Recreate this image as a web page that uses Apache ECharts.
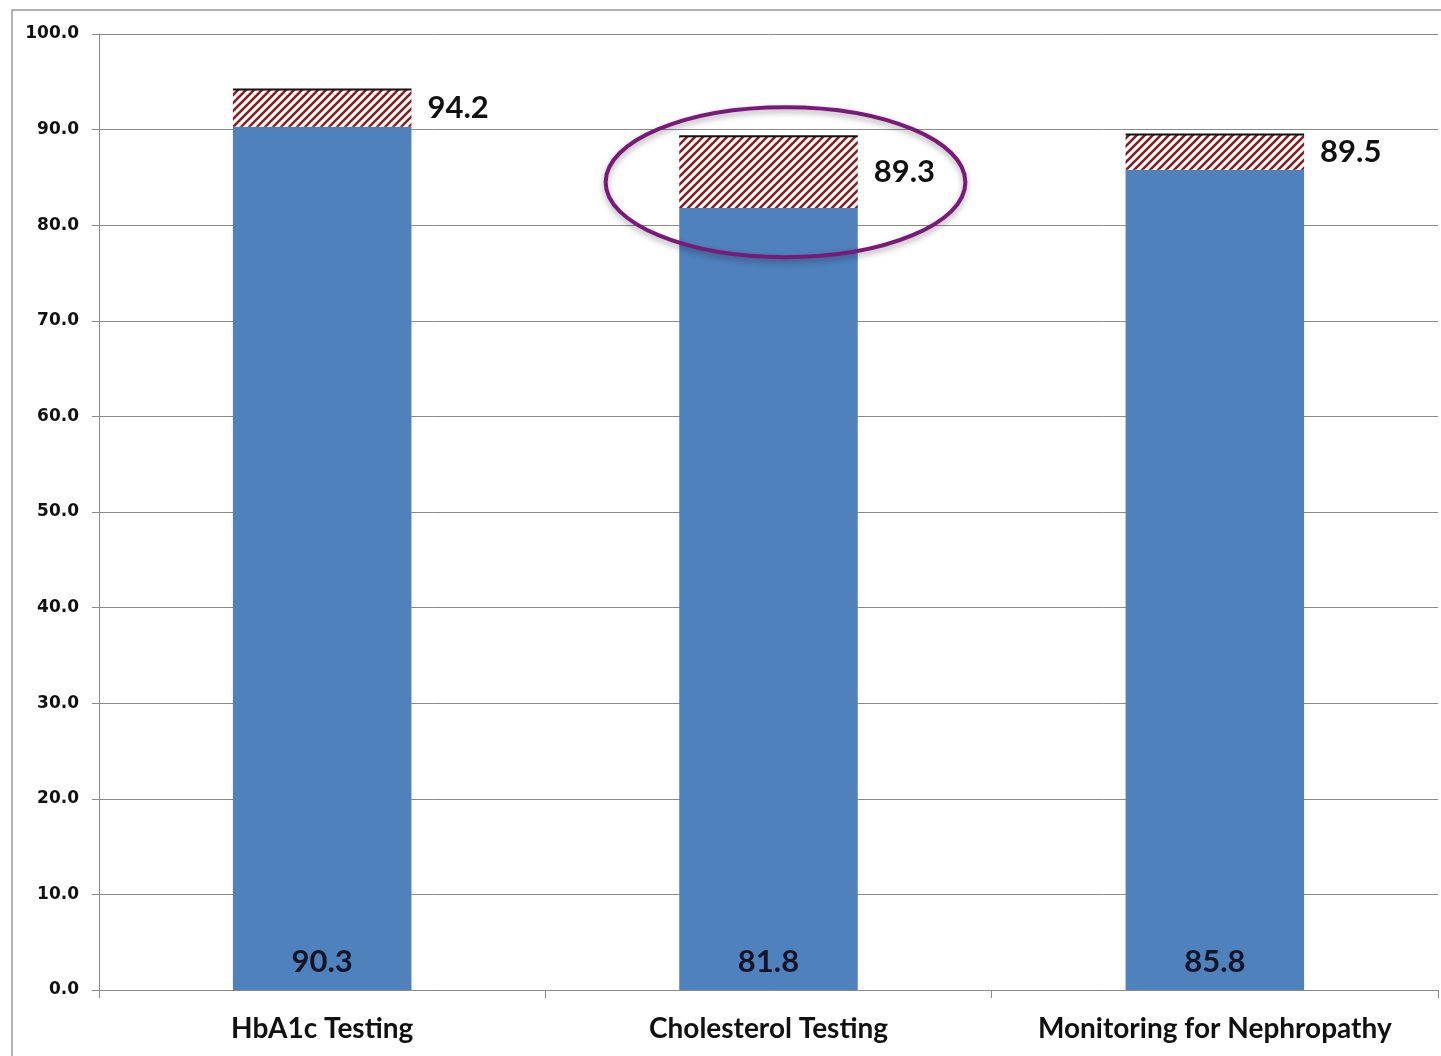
<!DOCTYPE html>
<html>
<head>
<meta charset="utf-8">
<script src="https://cdn.jsdelivr.net/npm/echarts@6/dist/echarts.min.js"></script>
<style>
html,body{margin:0;padding:0;background:#fff;}
#main{width:1441px;height:1056px;}
</style>
</head>
<body>
<div id="main"></div>
<script>
const categories = ['HbA1c Testing', 'Cholesterol Testing', 'Monitoring for Nephropathy'];
const baseValues = [90.3, 81.8, 85.8];
const totalValues = [94.2, 89.3, 89.5];
const yTicks = { min: 0, max: 100, interval: 10 };

const gapValues = totalValues.map((t, i) => +(t - baseValues[i]).toFixed(1));

// hatch pattern
const pc = document.createElement('canvas');
pc.width = 8; pc.height = 8;
const g = pc.getContext('2d');
g.fillStyle = '#ffffff';
g.fillRect(0, 0, 8, 8);
g.strokeStyle = '#8e1b1b';
g.lineWidth = 2.6;
g.beginPath();
g.moveTo(-1, 9); g.lineTo(9, -1);
g.moveTo(-5, 5); g.lineTo(5, -5);
g.moveTo(3, 13); g.lineTo(13, 3);
g.stroke();

const chart = echarts.init(document.getElementById('main'), null, { renderer: 'canvas' });
const labelFont = 'Lato, "Open Sans", sans-serif';

const option = {
  animation: false,
  backgroundColor: '#fff',
  grid: { left: 99, right: 3, top: 34, bottom: 66, containLabel: false },
  xAxis: {
    type: 'category',
    data: categories,
    axisLine: { lineStyle: { color: '#8a8a8a', width: 1 } },
    axisTick: { show: true, interval: 0, length: 8, lineStyle: { color: '#8a8a8a' } },
    axisLabel: { interval: 0, hideOverlap: false, color: '#111', fontFamily: labelFont, fontWeight: 'bold', fontSize: 28, margin: 25 }
  },
  yAxis: {
    type: 'value',
    min: yTicks.min, max: yTicks.max, interval: yTicks.interval,
    axisLine: { show: true, lineStyle: { color: '#8a8a8a', width: 1 } },
    axisTick: { show: true, length: 7, lineStyle: { color: '#8a8a8a' } },
    splitLine: { lineStyle: { color: '#8a8a8a', width: 1 } },
    axisLabel: {
      color: '#111', fontFamily: '"DejaVu Sans", Verdana, sans-serif', fontWeight: 'bold', fontSize: 17, margin: 20,
      formatter: v => v.toFixed(1)
    }
  },
  series: [
    {
      name: 'base', type: 'bar', stack: 's', data: baseValues, barWidth: '40%',
      itemStyle: { color: '#4f81bd' },
      label: {
        show: true, position: 'insideBottom', distance: 13,
        color: '#141428', fontFamily: labelFont, fontWeight: 'bold', fontSize: 31,
        formatter: p => p.value.toFixed(1)
      }
    },
    {
      name: 'gap', type: 'bar', stack: 's', data: gapValues, barWidth: '40%',
      itemStyle: { color: { image: pc, repeat: 'repeat' } },
      label: {
        show: true, position: 'right', distance: 16,
        color: '#111', fontFamily: labelFont, fontWeight: 'bold', fontSize: 31,
        formatter: p => totalValues[p.dataIndex].toFixed(1)
      }
    },
    {
      name: 'topline', type: 'custom',
      data: categories.map((c, i) => [i, totalValues[i]]),
      z: 5,
      renderItem: (params, api) => {
        const p = api.coord([api.value(0), api.value(1)]);
        const w = api.size([1, 0])[0] * 0.4;
        return {
          type: 'line',
          shape: { x1: p[0] - w / 2, y1: p[1], x2: p[0] + w / 2, y2: p[1] },
          style: { stroke: '#111', lineWidth: 2 }
        };
      }
    }
  ],
  graphic: [
    { type: 'rect', shape: { x: 12, y: 10, width: 1440, height: 1060 }, style: { fill: null, stroke: '#9a9a9a', lineWidth: 1.5 }, silent: true }
  ]
};
chart.setOption(option);

// highlight ellipse around the second category's top segment
const c = chart.convertToPixel({ seriesIndex: 0 }, [1, 84.5]);
const catW = chart.convertToPixel({ xAxisIndex: 0 }, 1) - chart.convertToPixel({ xAxisIndex: 0 }, 0);
chart.setOption({
  graphic: [
    { type: 'rect', shape: { x: 12, y: 10, width: 1440, height: 1060 }, style: { fill: null, stroke: '#9a9a9a', lineWidth: 1.5 }, silent: true },
    {
      type: 'ellipse', z: 100,
      shape: { cx: c[0] + 17, cy: c[1], rx: catW * 0.403, ry: 75 },
      style: { fill: null, stroke: '#7a1a78', lineWidth: 4, shadowBlur: 6, shadowColor: 'rgba(0,0,0,0.35)', shadowOffsetY: 3 }
    }
  ]
});
</script>
</body>
</html>
